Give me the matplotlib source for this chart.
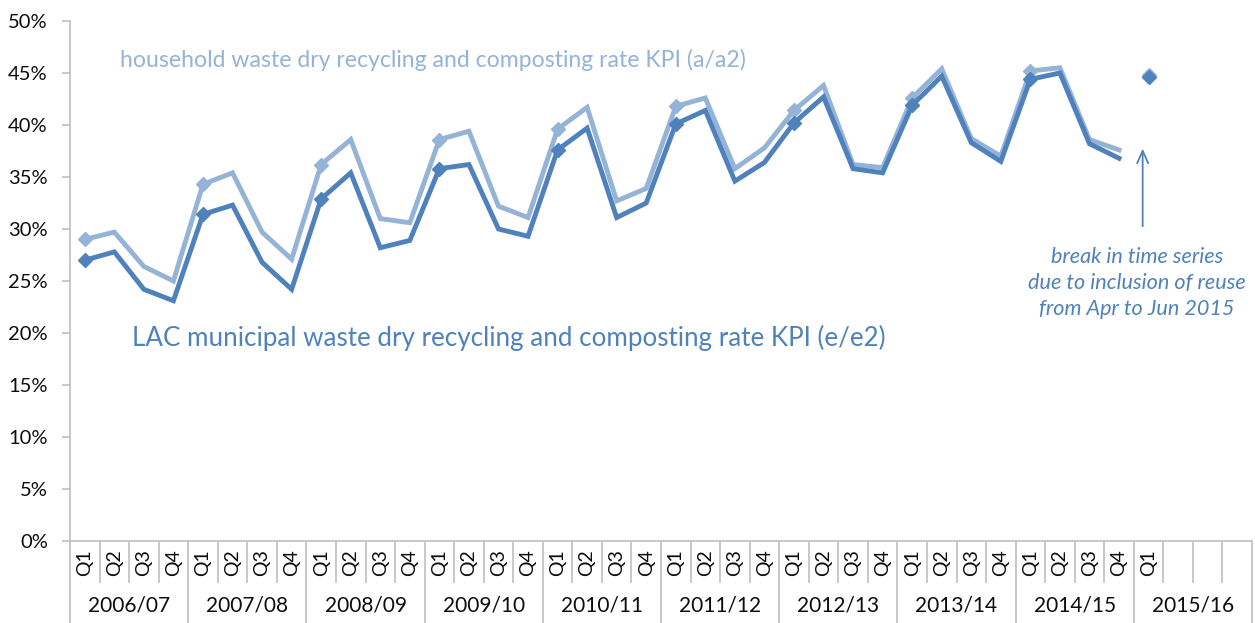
import matplotlib
matplotlib.use("Agg")
import matplotlib.pyplot as plt
import matplotlib.transforms as mtransforms

years = ["2006/07", "2007/08", "2008/09", "2009/10", "2010/11",
         "2011/12", "2012/13", "2013/14", "2014/15", "2015/16"]
quarters = ["Q1", "Q2", "Q3", "Q4"]

household = [29.0, 29.7, 26.4, 25.0,
             34.3, 35.4, 29.7, 27.1,
             36.2, 38.6, 31.0, 30.6,
             38.6, 39.4, 32.2, 31.1,
             39.6, 41.7, 32.7, 33.9,
             41.8, 42.6, 35.8, 37.8,
             41.4, 43.8, 36.2, 35.9,
             42.6, 45.4, 38.7, 37.0,
             45.2, 45.5, 38.6, 37.6]
lac = [27.0, 27.8, 24.2, 23.1,
       31.4, 32.3, 26.8, 24.2,
       32.9, 35.4, 28.2, 28.9,
       35.8, 36.2, 30.0, 29.3,
       37.6, 39.7, 31.1, 32.5,
       40.1, 41.4, 34.6, 36.4,
       40.2, 42.7, 35.8, 35.4,
       41.9, 44.7, 38.3, 36.5,
       44.4, 45.0, 38.2, 36.8]
household_2015q1 = 44.8
lac_2015q1 = 44.6
n_labelled = 37  # quarters with a label (through 2015/16 Q1)

DARK = "#4F81BD"
LIGHT = "#95B3D7"
GRID = "#BFBFBF"
TXT = "#0d0d0d"
FONT = "Lato"

plt.rcParams["font.family"] = [FONT, "DejaVu Sans"]

fig = plt.figure(figsize=(12.55, 6.23), dpi=100)
L, R, T, B = 70, 1252, 21, 541
ax = fig.add_axes([L / 1255, (623 - B) / 623, (R - L) / 1255, (B - T) / 623])

nq = len(years) * 4
xs = list(range(len(household)))
mk = list(range(0, len(xs), 4))
ax.plot(xs, household, color=LIGHT, lw=3.5, solid_joinstyle="miter",
        marker="D", markersize=7, markevery=mk, zorder=3)
ax.plot(xs, lac, color=DARK, lw=3.5, solid_joinstyle="miter",
        marker="D", markersize=7, markevery=mk, zorder=4)
ax.plot([len(household)], [household_2015q1], color=LIGHT, marker="D", markersize=7, ls="none", zorder=3)
ax.plot([len(lac)], [lac_2015q1], color=DARK, marker="D", markersize=7, ls="none", zorder=4)

ax.set_xlim(-0.5, nq - 0.5)
ax.set_ylim(0, 50)
ax.set_yticks(range(0, 51, 5))
ax.set_yticklabels([f"{v}%" for v in range(0, 51, 5)], fontsize=14.5, color=TXT)
ax.tick_params(axis="y", length=6, color=GRID, pad=10, width=1.2)
ax.set_xticks([])
for s in ["top", "right"]:
    ax.spines[s].set_visible(False)
for s in ["left", "bottom"]:
    ax.spines[s].set_color(GRID)
    ax.spines[s].set_linewidth(1.2)

trans = mtransforms.blended_transform_factory(ax.transData, ax.transAxes)
h = B - T
q_bot = -(583 - B) / h
y_bot = -(623 - B) / h
for i in range(nq + 1):
    bottom = y_bot if i % 4 == 0 else q_bot
    ax.plot([i - 0.5, i - 0.5], [0, bottom], transform=trans, color=GRID,
            lw=1.2, clip_on=False, solid_capstyle="butt")
for i in range(n_labelled):
    ax.text(i, -(563 - B) / h, quarters[i % 4], transform=trans, rotation=90,
            ha="center", va="center", fontsize=14, color=TXT)
for k, yr in enumerate(years):
    ax.text(4 * k + 1.5, -(606 - B) / h, yr, transform=trans,
            ha="center", va="center", fontsize=15, color=TXT)

ax.text(1.2, 46.3, "household waste dry recycling and composting rate KPI (a/a2)",
        color=LIGHT, fontsize=16.6, ha="left", va="center")
ax.text(1.6, 19.5, "LAC municipal waste dry recycling and composting rate KPI (e/e2)",
        color=DARK, fontsize=18.7, ha="left", va="center")

ax.annotate("", xy=(35.8, 38.0), xytext=(35.8, 30.0),
            arrowprops=dict(arrowstyle="->,head_length=0.9,head_width=0.4",
                            color=DARK, lw=1.3))
ax.text(35.6, 24.8, "break in time series\ndue to inclusion of reuse\nfrom Apr to Jun 2015",
        color=DARK, fontsize=15.6, style="italic", ha="center", va="center",
        linespacing=1.35)

fig.savefig("out.png", dpi=100)
